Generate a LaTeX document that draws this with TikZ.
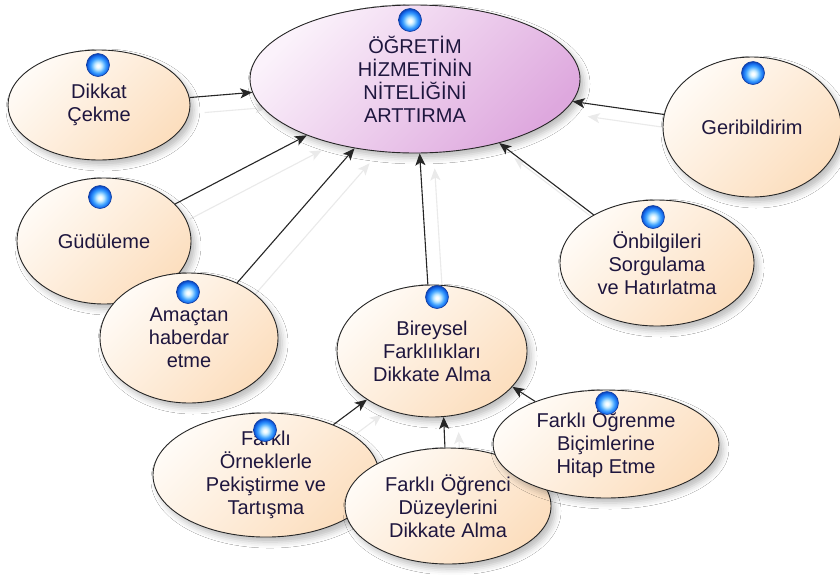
\documentclass[tikz,border=0pt]{standalone}
\usepackage{fontspec}
\setmainfont{Liberation Sans}
\usetikzlibrary{shapes.geometric,arrows.meta,shadows.blur,backgrounds}
\definecolor{peachA}{RGB}{255,251,246}
\definecolor{peachB}{RGB}{252,222,190}
\definecolor{lilacA}{RGB}{251,242,251}
\definecolor{lilacB}{RGB}{222,168,222}
\definecolor{inktext}{RGB}{30,22,62}
\definecolor{knobhi}{RGB}{250,254,255}
\definecolor{knobsoft}{RGB}{190,232,255}
\definecolor{knobmid}{RGB}{60,160,255}
\definecolor{knobedge}{RGB}{20,105,235}
\definecolor{knobrim}{RGB}{10,65,180}
\definecolor{knobline}{RGB}{15,60,160}
\definecolor{ghostgray}{RGB}{234,234,234}

% glossy sphere shading for the small markers
\pgfdeclareradialshading{knobshade}{\pgfpoint{0bp}{-2bp}}{%
  color(0bp)=(knobhi); color(3bp)=(knobhi); color(8bp)=(knobsoft);
  color(16bp)=(knobmid); color(22bp)=(knobedge); color(26bp)=(knobrim);
  color(50bp)=(knobrim)}

\begin{document}
\begin{tikzpicture}[x=1pt,y=-1pt,
  bubble/.style={ellipse, draw=black!85, line width=0.9pt, inner sep=0pt,
    align=center, text=inktext, font=\fontsize{20}{23}\selectfont,
    blur shadow={shadow xshift=4pt, shadow yshift=-5pt, shadow blur radius=6pt, shadow opacity=26}},
  peachfill/.style={top color=peachA, bottom color=peachB, shading angle=45},
  lilacfill/.style={top color=lilacA, bottom color=lilacB, shading angle=45},
  knob/.style={circle, minimum size=23pt, inner sep=0pt, shading=knobshade,
    draw=knobline, line width=0.6pt},
  link/.style={draw=black!85, line width=1.1pt,
    -{Stealth[length=12pt, width=10pt, inset=3pt]}},
  ghost/.style={draw=ghostgray, line width=1.1pt,
    -{Stealth[length=12pt, width=10pt, inset=3pt]},
    transform canvas={shift={(15,15)}}}]

\useasboundingbox (0,0) rectangle (840,574);

% goal and contributing factors
\node[bubble, lilacfill, minimum width=330pt, minimum height=148pt] (goal) at (415,79)
  {ÖĞRETİM\\HİZMETİNİN\\NİTELİĞİNİ\\ARTTIRMA};
\node[bubble, peachfill, minimum width=182pt, minimum height=110pt] (dikkat) at (99,105)
  {Dikkat\\Çekme};
\node[bubble, peachfill, minimum width=178pt, minimum height=140pt] (geri) at (752,127)
  {Geribildirim};
\node[bubble, peachfill, minimum width=174pt, minimum height=126pt] (gudu) at (104,241)
  {Güdüleme};
\node[bubble, peachfill, minimum width=178pt, minimum height=130pt] (amac) at (189,338)
  {Amaçtan\\haberdar\\etme};
\node[bubble, peachfill, minimum width=194pt, minimum height=126pt] (onbilgi) at (657,263)
  {Önbilgileri\\Sorgulama\\ve Hatırlatma};
\node[bubble, peachfill, minimum width=190pt, minimum height=132pt] (bireysel) at (432,351)
  {Bireysel\\Farklılıkları\\Dikkate Alma};
\node[bubble, peachfill, minimum width=226pt, minimum height=124pt] (ornek) at (266,475)
  {Farklı\\Örneklerle\\Pekiştirme ve\\Tartışma};
\node[bubble, peachfill, minimum width=206pt, minimum height=116pt] (duzey) at (448,506)
  {Farklı Öğrenci\\Düzeylerini\\Dikkate Alma};
\node[bubble, peachfill, minimum width=226pt, minimum height=108pt] (bicim) at (606,444)
  {Farklı Öğrenme\\Biçimlerine\\Hitap Etme};

% blue markers on top of the ellipses
\node[knob] (kgoal) at (410,20) {};
\node[knob] (kdikkat) at (98,65) {};
\node[knob] (kgeri) at (753,73) {};
\node[knob] (kgudu) at (100,197) {};
\node[knob] (kamac) at (188,292) {};
\node[knob] (konbilgi) at (653,217) {};
\node[knob] (kbireysel) at (437,297) {};
\node[knob] (kornek) at (265,430) {};
\node[knob] (kbicim) at (607,403) {};

% faint echoes of the connectors
\begin{pgfonlayer}{background}
  \fill[white] (0,0) rectangle (840,574);
  \draw[ghost] (dikkat) -- (goal);
  \draw[ghost] (gudu) -- (goal);
  \draw[ghost] (amac) -- (goal);
  \draw[ghost] (bireysel) -- (goal);
  \draw[ghost] (onbilgi) -- (goal);
  \draw[ghost] (geri) -- (goal);
  \draw[ghost] (ornek) -- (bireysel);
  \draw[ghost] (duzey.93) -- (bireysel.-80);
  \draw[ghost] (bicim.149) -- (bireysel.-24);
\end{pgfonlayer}

% connectors
\draw[link] (dikkat) -- (goal);
\draw[link] (gudu) -- (goal);
\draw[link] (amac) -- (goal);
\draw[link] (bireysel) -- (goal);
\draw[link] (onbilgi) -- (goal);
\draw[link] (geri) -- (goal);
\draw[link] (ornek) -- (bireysel);
\draw[link] (duzey.93) -- (bireysel.-80);
\draw[link] (bicim.149) -- (bireysel.-24);
\end{tikzpicture}
\end{document}
